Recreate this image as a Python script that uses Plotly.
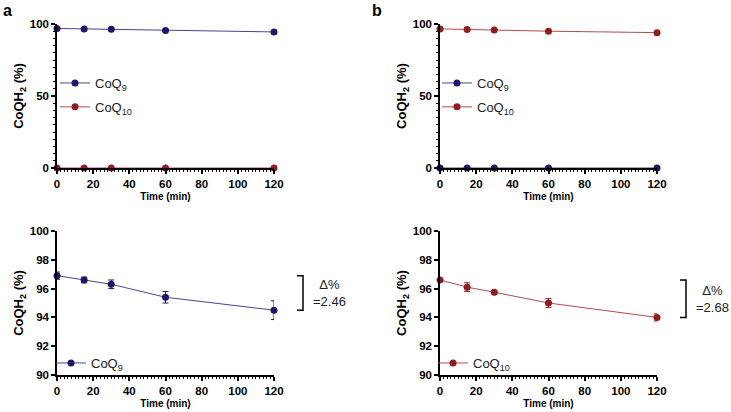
import plotly.graph_objects as go

time_min = [0, 15, 30, 60, 120]

# Panel a: CoQ9 sample
a_coq9 = [96.9, 96.6, 96.3, 95.4, 94.5]
a_coq9_err = [0.25, 0.2, 0.3, 0.4, 0.65]
a_coq10 = [0, 0, 0, 0, 0]

# Panel b: CoQ10 sample
b_coq10 = [96.6, 96.1, 95.75, 95.0, 94.0]
b_coq10_err = [0.05, 0.3, 0.1, 0.3, 0.25]
b_coq9 = [0, 0, 0, 0, 0]

delta_a = "Δ%<br>=2.46"
delta_b = "Δ%<br>=2.68"

NAVY_M = "#1e1668"
NAVY_L = "#4a4296"
RED_M = "#8f1c1f"
RED_L = "#b44a4c"

W, H = 731, 412
FONT = "Liberation Sans, Arial, sans-serif"

def px_x(p):
    return p / W

def px_y(p):
    return 1 - p / H

fig = go.Figure()

def add(x, y, name, mc, lc, xa, ya, legend, err=None, show=True):
    fig.add_trace(go.Scatter(
        x=x, y=y, name=name, mode="lines+markers",
        marker=dict(color=mc, size=7),
        line=dict(color=lc, width=1),
        error_y=dict(type="data", array=err, color=mc, thickness=1, width=3) if err is not None else None,
        xaxis=xa, yaxis=ya, legend=legend, showlegend=show,
        legendgroup=name + legend, cliponaxis=False,
    ))

# top-left
add(time_min, a_coq9, "CoQ<sub>9</sub>", NAVY_M, NAVY_L, "x", "y", "legend", a_coq9_err)
add(time_min, a_coq10, "CoQ<sub>10</sub>", RED_M, RED_L, "x", "y", "legend")
# top-right
add(time_min, b_coq9, "CoQ<sub>9</sub>", NAVY_M, NAVY_L, "x2", "y2", "legend2")
add(time_min, b_coq10, "CoQ<sub>10</sub>", RED_M, RED_L, "x2", "y2", "legend2", b_coq10_err)
# bottom-left
add(time_min, a_coq9, "CoQ<sub>9</sub>", NAVY_M, NAVY_L, "x3", "y3", "legend3", a_coq9_err)
# bottom-right
add(time_min, b_coq10, "CoQ<sub>10</sub>", RED_M, RED_L, "x4", "y4", "legend4", b_coq10_err)

xl = [px_x(57), px_x(274)]
xr = [px_x(440), px_x(657)]
yt = [px_y(168), px_y(24)]
yb = [px_y(375), px_y(231)]

tickfont = dict(family=FONT, size=11.5, color="black", weight="bold")

def xaxis(dom, anchor):
    return dict(
        domain=dom, anchor=anchor, range=[0, 120], tickvals=[0, 20, 40, 60, 80, 100, 120],
        showline=True, linecolor="black", linewidth=1.5, ticks="outside", ticklen=4,
        tickwidth=1.5, tickcolor="black", showgrid=False, zeroline=False, automargin=False,
        minor=dict(dtick=2, ticks="outside", ticklen=2.5, tickwidth=1, tickcolor="black", showgrid=False),
        tickfont=tickfont,
        title=dict(text="<b>Time (min)</b>", font=dict(family=FONT, size=10, color="black"), standoff=4),
    )

def yaxis(dom, anchor, rng, tv, minor):
    d = dict(
        domain=dom, anchor=anchor, range=rng, tickvals=tv,
        showline=True, linecolor="black", linewidth=1.5, ticks="outside", ticklen=4,
        tickwidth=1.5, tickcolor="black", showgrid=False, zeroline=False, automargin=False,
        tickfont=tickfont,
        title=dict(text="<b>CoQH<sub>2</sub> (%)</b>", font=dict(family=FONT, size=13, color="black"), standoff=3),
    )
    if minor:
        d["minor"] = dict(dtick=5, ticks="outside", ticklen=2.5, tickwidth=1, tickcolor="black", showgrid=False)
    return d

legfont = dict(family=FONT, size=13, color="#222222")

def legend(x, y):
    return dict(x=px_x(x), y=px_y(y), xanchor="left", yanchor="top", bgcolor="rgba(0,0,0,0)",
                font=legfont, itemwidth=30, tracegroupgap=4)

fig.update_layout(
    width=W, height=H, autosize=False,
    margin=dict(l=0, r=0, t=0, b=0, autoexpand=False),
    paper_bgcolor="white", plot_bgcolor="white",
    xaxis=xaxis(xl, "y"), yaxis=yaxis(yt, "x", [0, 100], [0, 50, 100], True),
    xaxis2=xaxis(xr, "y2"), yaxis2=yaxis(yt, "x2", [0, 100], [0, 50, 100], True),
    xaxis3=xaxis(xl, "y3"), yaxis3=yaxis(yb, "x3", [90, 100], [90, 92, 94, 96, 98, 100], False),
    xaxis4=xaxis(xr, "y4"), yaxis4=yaxis(yb, "x4", [90, 100], [90, 92, 94, 96, 98, 100], False),
    legend=legend(55, 68),
    legend2=legend(437, 68),
    legend3=legend(51, 348),
    legend4=legend(433, 348),
)

# panel letters
fig.add_annotation(text="<b>a</b>", x=px_x(1), y=px_y(0), xref="paper", yref="paper",
                   xanchor="left", yanchor="top", showarrow=False,
                   font=dict(family=FONT, size=16, color="black"))
fig.add_annotation(text="<b>b</b>", x=px_x(370), y=px_y(0), xref="paper", yref="paper",
                   xanchor="left", yanchor="top", showarrow=False,
                   font=dict(family=FONT, size=16, color="black"))

# delta brackets
def bracket(x0px, yref, ytop, ybot, text, textx):
    x0 = px_x(x0px)
    x1 = px_x(x0px + 6)
    fig.add_shape(type="path", xref="paper", yref=yref,
                  path=f"M {x0},{ytop} L {x1},{ytop} L {x1},{ybot} L {x0},{ybot}",
                  line=dict(color="black", width=1.5))
    fig.add_annotation(text=text, x=px_x(textx), y=(ytop + ybot) / 2, xref="paper", yref=yref,
                       xanchor="center", yanchor="middle", showarrow=False, align="center",
                       font=dict(family=FONT, size=13, color="#222222"))

bracket(297, "y3", a_coq9[0], a_coq9[-1], delta_a, 329)
bracket(680, "y4", b_coq10[0], b_coq10[-1], delta_b, 712)

fig.write_html("out.html", config={"displayModeBar": False},
               post_script="document.body.style.margin='0';document.body.style.overflow='hidden';")
